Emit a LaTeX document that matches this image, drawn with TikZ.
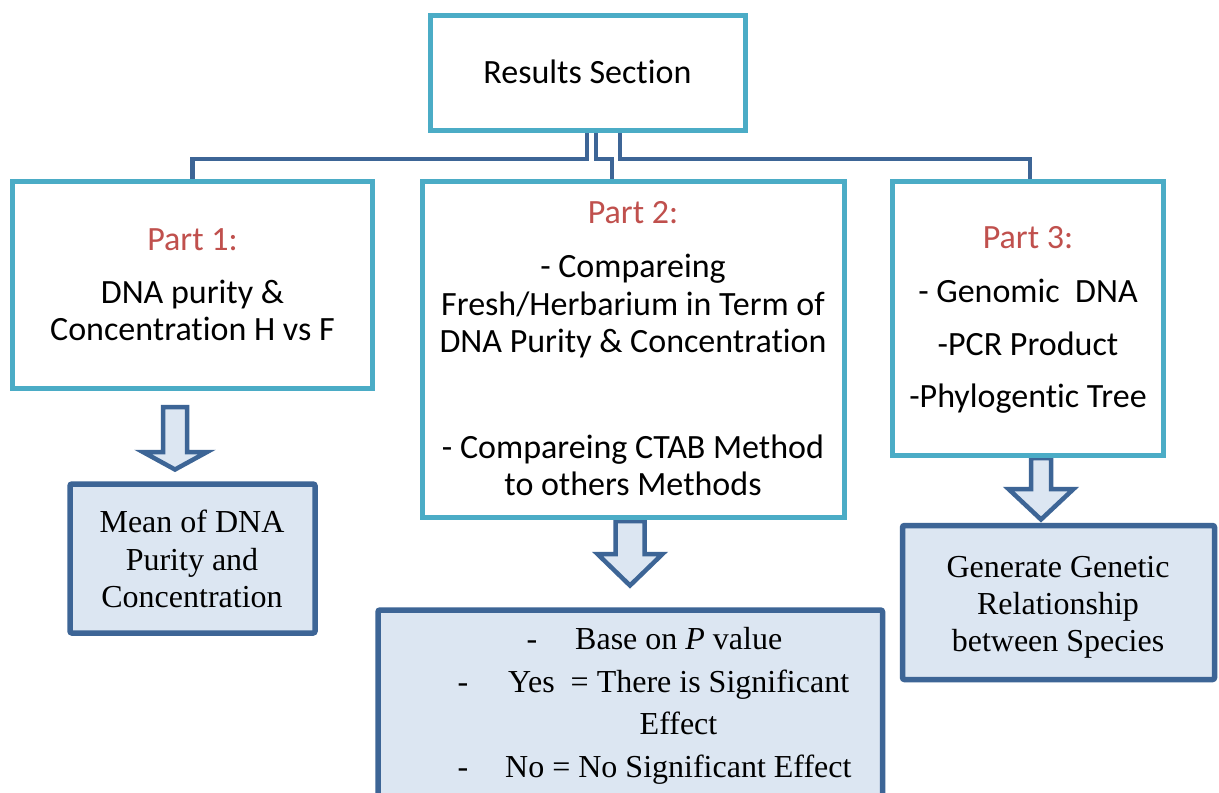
\documentclass[tikz,border=0pt]{standalone}
\usepackage{fontspec}
\setmainfont{Liberation Serif}
\newfontfamily\calibri[Ligatures=NoCommon]{Carlito}
\usetikzlibrary{backgrounds}
\definecolor{aquaB}{HTML}{4BACC6}
\definecolor{navyB}{HTML}{3D6596}
\definecolor{paleB}{HTML}{DCE6F2}
\definecolor{redB}{HTML}{C0504D}
\tikzset{pics/blockarrow/.style args={#1/#2/#3/#4}{code={
  \draw[barrow] (-#1,0) -- (#1,0) -- (#1,#3) -- (#2,#3) -- (0,#4) -- (-#2,#3) -- (-#1,#3) -- cycle;}}}
\begin{document}
\begin{tikzpicture}[x=1pt,y=-1pt,
  cbox/.style={draw=aquaB, line width=5pt, fill=white, inner sep=0pt, outer sep=0pt},
  rbox/.style={draw=navyB, line width=5.5pt, fill=paleB, rounded corners=2pt, inner sep=0pt, outer sep=0pt},
  conn/.style={draw=navyB, line width=4.5pt},
  barrow/.style={draw=navyB, line width=4.5pt, fill=paleB, line join=miter},
  ct/.style={anchor=base, inner sep=0pt, font=\calibri\fontsize{34}{40}\selectfont},
  pt/.style={ct, text=redB},
  st/.style={anchor=base, inner sep=0pt, font=\fontsize{32}{38}\selectfont},
  stw/.style={st, anchor=base west},
]
\clip (0,0) rectangle (1219,793);

% main boxes
\node[cbox, minimum width=315pt, minimum height=115.5pt] (res) at (587.5,72.75) {};
\node[cbox, minimum width=360pt, minimum height=207pt] (p1) at (192.5,285) {};
\node[cbox, minimum width=421.5pt, minimum height=336pt] (p2) at (633.25,349.5) {};
\node[cbox, minimum width=271pt, minimum height=274pt] (p3) at (1028,318.5) {};
% result boxes
\node[rbox, minimum width=245pt, minimum height=149pt] (r1) at (192.5,558.5) {};
\node[rbox, minimum width=504.5pt, minimum height=220pt] (r2) at (630.25,720) {};
\node[rbox, minimum width=312pt, minimum height=154pt] (r3) at (1058.5,602.5) {};

\begin{pgfonlayer}{background}
\fill[white] (0,0) rectangle (1219,793);
\draw[conn] (p1.north) -- ++(0,-22.5) -| ([xshift=-0.5pt]res.south);
\draw[conn] ([xshift=-21.25pt]p2.north) -- ++(0,-22.5) -| ([xshift=8.5pt]res.south);
\draw[conn] ([xshift=2pt]p3.north) -- ++(0,-22.5) -| ([xshift=32.5pt]res.south);
\pic (a1) at ([xshift=-17.5pt,yshift=-18.5pt]p1.south) {blockarrow=12/32/45/62.5};
\pic (a2) at ([xshift=-3.25pt,yshift=-3.5pt]p2.south) {blockarrow=14.5/32.5/33/64.5};
\pic (a3) at ([xshift=13pt,yshift=-2.5pt]p3.south) {blockarrow=10/32.5/31/61.5};
\end{pgfonlayer}

% texts
\node[ct] (tres) at (587.5,83) {Results Section};

\node[pt] (t1a) at (192.5,250) {Part 1:};
\node[ct] (t1b) at (192.5,303) {DNA purity \&};
\node[ct] (t1c) at (192.5,340) {Concentration H vs F};

\node[pt] (t2a) at (633,223) {Part 2:};
\node[ct] (t2b) at (633,277) {- Compareing};
\node[ct] (t2c) at (633,315) {Fresh/Herbarium in Term of};
\node[ct] (t2d) at (633,352) {DNA Purity \& Concentration};
\node[ct] (t2e) at (633,458) {- Compareing CTAB Method};
\node[ct] (t2f) at (633,495) {to others Methods};

\node[pt] (t3a) at (1028,248) {Part 3:};
\node[ct] (t3b) at (1028,302) {- Genomic\ \ DNA};
\node[ct] (t3c) at (1028,355) {-PCR Product};
\node[ct] (t3d) at (1028,407) {-Phylogentic Tree};

\node[st] (u1a) at (192,532) {Mean of DNA};
\node[st] (u1b) at (192,570) {Purity and};
\node[st] (u1c) at (192,607) {Concentration};

\node[st] (u3a) at (1058,577) {Generate Genetic};
\node[st] (u3b) at (1058,614) {Relationship};
\node[st] (u3c) at (1058,651) {between Species};

\node[st] (d1) at (532,649) {-};
\node[stw] (u2a) at (575,649) {Base on \textit{P} value};
\node[st] (d2) at (463,692) {-};
\node[stw] (u2b) at (508,692) {Yes\ \ = There is Significant};
\node[st] (u2c) at (678.5,734) {Effect};
\node[st] (d3) at (463,777) {-};
\node[stw] (u2d) at (505,777) {No = No Significant Effect};
\end{tikzpicture}
\end{document}
